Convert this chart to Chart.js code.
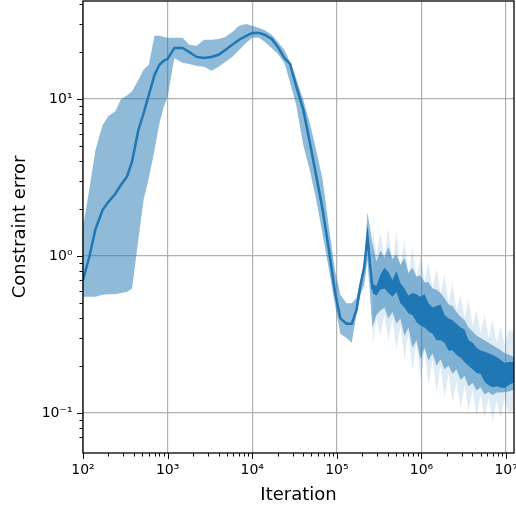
<!DOCTYPE html>
<html>
<head>
<meta charset="utf-8">
<script src="https://cdn.jsdelivr.net/npm/chart.js@4.4.1/dist/chart.umd.min.js"></script>
<style>
  html, body { margin: 0; padding: 0; background: #fff; }
  #wrap { width: 516px; height: 508px; }
</style>
</head>
<body>
<div id="wrap"><canvas id="chart" width="516" height="508"></canvas></div>
<script>
// iterations (x) for the mean curve and its shaded band
const iters = [100, 120, 140, 170, 200, 240, 280, 330, 380, 450, 520, 600, 700, 800, 900,
    1000, 1200, 1500, 1800, 2200, 2700, 3300, 4000, 4800, 5800, 7000, 8500,
    10000, 12000, 14000, 17000, 20000, 24000, 28000, 33000, 40000, 48000, 57000, 68000, 80000, 95000,
    110000, 130000, 150000, 170000, 190000, 210000, 230000,
    263000, 293000, 327000, 365000, 406000, 454000, 506000, 564000, 630000, 701000, 782000, 873000, 973000,
    1090000, 1210000, 1350000, 1510000, 1680000, 1870000, 2090000, 2330000, 2590000, 2900000, 3230000,
    3600000, 4020000, 4480000, 4990000, 5570000, 6210000, 6920000, 7730000, 8610000, 9590000, 10700000, 12400000];

const meanErr = [0.70, 1.01, 1.47, 1.96, 2.21, 2.48, 2.83, 3.19, 4.0, 6.3, 8.1, 10.6, 14.2, 16.5, 17.5,
    18, 21.1, 21.1, 19.9, 18.5, 18.2, 18.5, 19.1, 20.5, 22.1, 23.8, 25.2,
    26.3, 26.3, 25.6, 24.1, 21.5, 18.2, 16.7, 12.1, 8.6, 5.25, 3.24, 1.96, 1.12, 0.59,
    0.40, 0.37, 0.37, 0.45, 0.65, 0.84, 1.32,
    0.62, 0.61, 0.68, 0.72, 0.68, 0.63, 0.69, 0.59, 0.54, 0.50, 0.49, 0.47, 0.45,
    0.45, 0.41, 0.39, 0.38, 0.38, 0.34, 0.32, 0.31, 0.30, 0.28, 0.27,
    0.24, 0.23, 0.22, 0.21, 0.20, 0.19, 0.185, 0.183, 0.178, 0.173, 0.178, 0.182];

const bandLo = [0.55, 0.55, 0.55, 0.565, 0.57, 0.57, 0.58, 0.59, 0.62, 1.26, 2.28, 3.14, 4.7, 7.0, 8.9,
    10.3, 18.2, 17, 16.7, 16.2, 16, 15.1, 16, 17.2, 18.5, 20.5, 22.8,
    24.5, 24.5, 23.1, 21.1, 19.4, 16.9, 12.7, 9.2, 5.1, 3.5, 2.28, 1.36, 0.84, 0.49,
    0.32, 0.30, 0.28, 0.42, 0.565, 0.65, 0.94,
    0.35, 0.42, 0.45, 0.47, 0.40, 0.44, 0.37, 0.40, 0.31, 0.35, 0.26, 0.29, 0.22,
    0.26, 0.215, 0.24, 0.20, 0.22, 0.19, 0.20, 0.178, 0.19, 0.163, 0.172,
    0.148, 0.156, 0.139, 0.146, 0.131, 0.136, 0.13, 0.135, 0.135, 0.136, 0.137, 0.14];

const bandHi = [1.53, 2.75, 4.7, 6.8, 7.8, 8.3, 9.9, 10.5, 11.2, 13.2, 15.3, 16.5, 25.2, 25.2, 24.8,
    24.5, 24.5, 24.5, 22.1, 21.8, 23.8, 23.8, 24.1, 24.8, 26.7, 29.2, 30,
    29.2, 28.3, 27.5, 25.6, 23.1, 20.5, 17.2, 13.6, 9.9, 7.0, 4.7, 3.05, 1.57, 0.81,
    0.565, 0.50, 0.50, 0.54, 0.70, 0.90, 1.9,
    1.21, 0.92, 1.08, 0.98, 1.14, 0.96, 1.02, 0.88, 0.97, 0.78, 0.84, 0.74, 0.75,
    0.68, 0.68, 0.62, 0.61, 0.58, 0.54, 0.49, 0.48, 0.44, 0.41, 0.39,
    0.35, 0.33, 0.31, 0.30, 0.29, 0.28, 0.27, 0.26, 0.252, 0.24, 0.236, 0.227];

// noisy late phase: spread of the raw curve and the faint outer runs
const tailIters = [263000, 293000, 327000, 365000, 406000, 454000, 506000, 564000, 630000, 701000, 782000, 873000, 973000,
    1090000, 1210000, 1350000, 1510000, 1680000, 1870000, 2090000, 2330000, 2590000, 2900000, 3230000,
    3600000, 4020000, 4480000, 4990000, 5570000, 6210000, 6920000, 7730000, 8610000, 9590000, 10700000, 12400000];

const noiseLo = [0.58, 0.56, 0.61, 0.62, 0.58, 0.55, 0.59, 0.50, 0.47, 0.43, 0.42, 0.38, 0.36,
    0.35, 0.33, 0.32, 0.29, 0.29, 0.28, 0.25, 0.25, 0.235, 0.225, 0.21,
    0.20, 0.19, 0.18, 0.178, 0.158, 0.15, 0.146, 0.148, 0.145, 0.144, 0.15, 0.157];

const noiseHi = [0.67, 0.64, 0.76, 0.84, 0.79, 0.70, 0.80, 0.67, 0.62, 0.56, 0.58, 0.57, 0.55,
    0.57, 0.50, 0.47, 0.48, 0.49, 0.42, 0.40, 0.39, 0.37, 0.35, 0.34,
    0.29, 0.28, 0.26, 0.25, 0.245, 0.24, 0.234, 0.227, 0.218, 0.208, 0.211, 0.211];

const faintLo = [0.27, 0.40, 0.31, 0.42, 0.285, 0.40, 0.252, 0.36, 0.218, 0.32, 0.187, 0.28, 0.162,
    0.25, 0.151, 0.22, 0.137, 0.20, 0.125, 0.18, 0.117, 0.16, 0.108, 0.15,
    0.102, 0.14, 0.096, 0.13, 0.093, 0.125, 0.088, 0.12, 0.093, 0.125, 0.10, 0.105];

const faintHi = [1.57, 1.00, 1.42, 0.95, 1.51, 0.90, 1.42, 0.85, 1.27, 0.75, 1.14, 0.72, 1.01,
    0.68, 0.916, 0.62, 0.839, 0.57, 0.757, 0.50, 0.67, 0.45, 0.565, 0.40,
    0.525, 0.36, 0.453, 0.32, 0.42, 0.30, 0.391, 0.28, 0.358, 0.27, 0.338, 0.328];

// decade exponents that get a tick label
const xDecades = [2, 3, 4, 5, 6, 7];
const yDecades = [-2, -1, 0, 1];

const C0 = '#1f77b4';
const SUP = {'0': '⁰', '1': '¹', '2': '²', '3': '³', '4': '⁴', '5': '⁵', '6': '⁶', '7': '⁷', '8': '⁸', '9': '⁹', '-': '⁻'};

function pts(xs, ys) {
    return xs.map((x, i) => ({x: x, y: ys[i]}));
}

function decadeOf(v) {
    const e = Math.round(Math.log10(v));
    return Math.abs(Math.log10(v) - e) < 1e-6 ? e : null;
}

function decadeLabel(list) {
    return function (v) {
        const e = decadeOf(v);
        if (e === null || list.indexOf(e) < 0) return '';
        return '10' + String(e).split('').map(c => SUP[c]).join('');
    };
}

function gridColor(c) {
    if (!c.tick) return 'rgba(0,0,0,0)';
    return decadeOf(c.tick.value) !== null ? '#b0b0b0' : 'rgba(0,0,0,0)';
}

const frame = {
    id: 'frame',
    afterDraw(chart) {
        const ctx = chart.ctx, a = chart.chartArea;
        ctx.save();
        ctx.strokeStyle = '#000';
        ctx.lineWidth = 1;
        [['x', true], ['y', false]].forEach(([id, horiz]) => {
            const s = chart.scales[id];
            s.ticks.forEach(t => {
                const m = t.value / Math.pow(10, Math.floor(Math.log10(t.value) + 1e-9));
                if (Math.abs(m - Math.round(m)) > 1e-6) return;
                const len = Math.abs(m - 1) < 1e-6 ? 6 : 3.5;
                const p = Math.round(s.getPixelForValue(t.value)) + 0.5;
                ctx.beginPath();
                if (horiz) { ctx.moveTo(p, a.bottom); ctx.lineTo(p, a.bottom + len); }
                else { ctx.moveTo(a.left, p); ctx.lineTo(a.left - len, p); }
                ctx.stroke();
            });
        });
        ctx.lineWidth = 1.3;
        ctx.strokeRect(a.left, a.top, a.right - a.left, a.bottom - a.top);
        ctx.restore();
    }
};

const thin = {pointRadius: 0, borderWidth: 0, tension: 0};

let ctx = document.getElementById('chart').getContext('2d');
let chart = new Chart(ctx, {
    type: 'line',
    data: {
        datasets: [
            Object.assign({data: pts(tailIters, faintLo), fill: false, order: 3}, thin),
            Object.assign({data: pts(tailIters, faintHi), fill: 0, backgroundColor: 'rgba(31,119,180,0.15)', order: 3}, thin),
            Object.assign({data: pts(iters, bandLo), fill: false, order: 2}, thin),
            Object.assign({data: pts(iters, bandHi), fill: 2, backgroundColor: 'rgba(31,119,180,0.5)', order: 2}, thin),
            Object.assign({data: pts(tailIters, noiseLo), fill: false, order: 1}, thin),
            Object.assign({data: pts(tailIters, noiseHi), fill: 4, backgroundColor: C0, order: 1}, thin),
            {
                label: 'Constraint error',
                data: pts(iters, meanErr),
                borderColor: C0,
                borderWidth: 2.5,
                pointRadius: 0,
                tension: 0,
                fill: false,
                order: 0
            }
        ]
    },
    options: {
        responsive: false,
        animation: false,
        devicePixelRatio: 1,
        layout: {padding: {top: 1, right: 2, left: 0, bottom: 0}},
        plugins: {legend: {display: false}, tooltip: {enabled: false}},
        scales: {
            x: {
                type: 'logarithmic',
                min: 100,
                max: 12400000,
                border: {display: false},
                grid: {color: gridColor, lineWidth: 1.2, drawTicks: true, tickLength: 6, tickColor: 'rgba(0,0,0,0)'},
                ticks: {autoSkip: false, maxRotation: 0, color: '#000', padding: 3,
                    font: {family: 'DejaVu Sans', size: 14}, callback: decadeLabel(xDecades)},
                title: {display: true, text: 'Iteration', color: '#000',
                    font: {family: 'DejaVu Sans', size: 18}, padding: {top: 2, bottom: 1.5}},
                afterFit: function (s) { s.height = 55; s.paddingLeft = 0; s.paddingRight = 0; }
            },
            y: {
                type: 'logarithmic',
                min: 0.0556,
                max: 42,
                border: {display: false},
                grid: {color: gridColor, lineWidth: 1.2, drawTicks: true, tickLength: 6, tickColor: 'rgba(0,0,0,0)'},
                ticks: {autoSkip: false, color: '#000', padding: 4.5,
                    font: {family: 'DejaVu Sans', size: 14}, callback: decadeLabel(yDecades)},
                title: {display: true, text: 'Constraint error', color: '#000',
                    font: {family: 'DejaVu Sans', size: 18}, padding: {top: 9.5, bottom: 0}},
                afterFit: function (s) { s.width = 83; s.paddingTop = 0; s.paddingBottom = 0; }
            }
        }
    },
    plugins: [frame]
});
</script>
</body>
</html>
